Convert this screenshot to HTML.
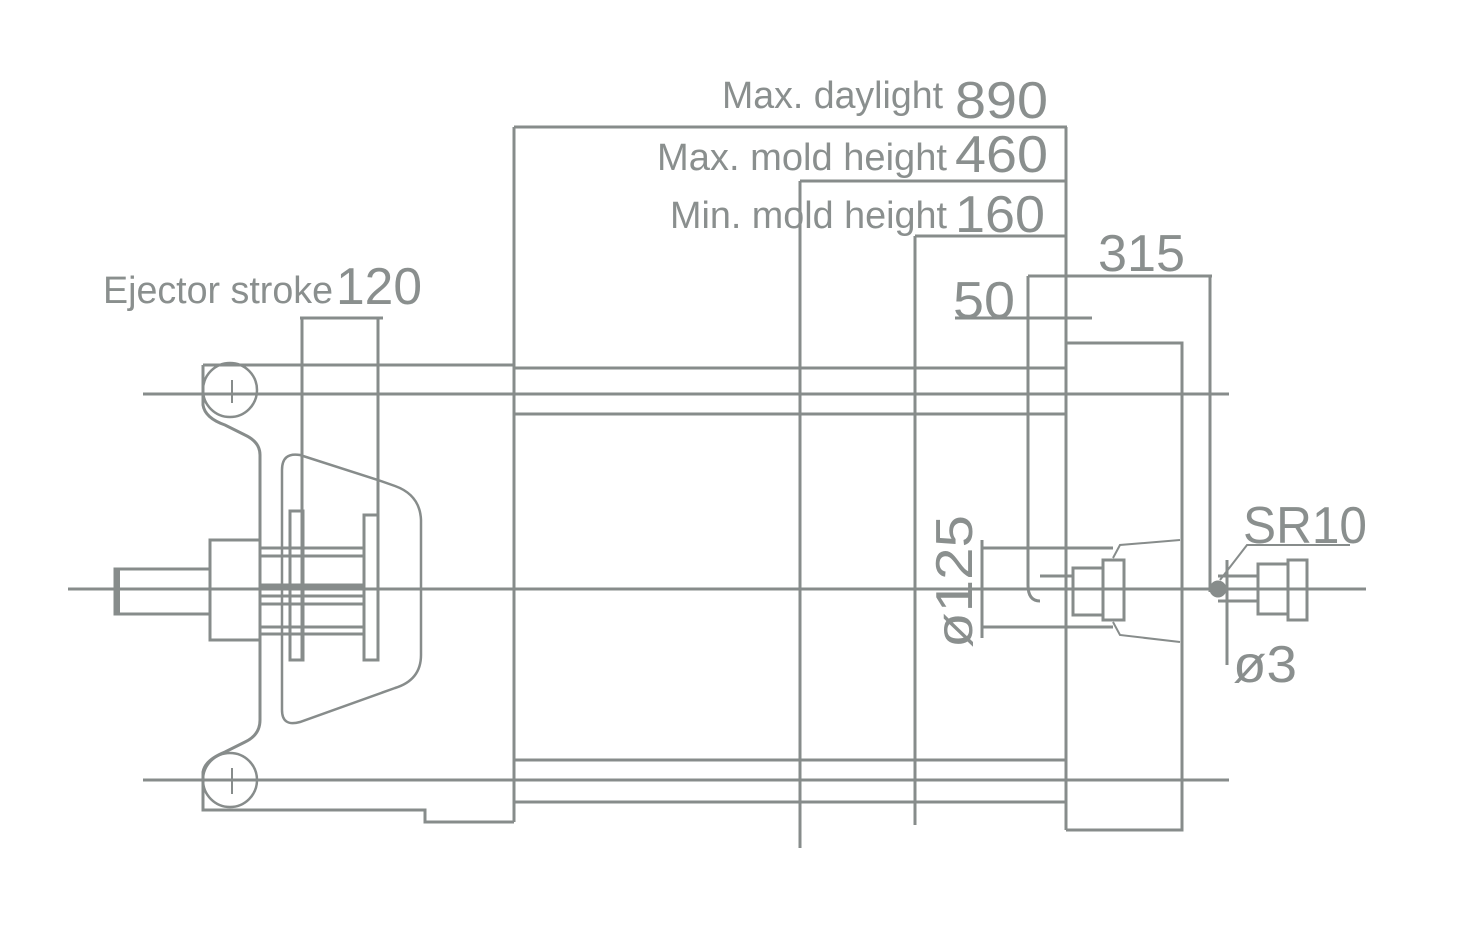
<!DOCTYPE html>
<html><head><style>
html,body{margin:0;padding:0;background:#fff;}
svg{display:block}
text{font-family:"Liberation Sans",sans-serif;fill:#8a8f8e;}
</style></head><body>
<svg width="1473" height="930" viewBox="0 0 1473 930" xmlns="http://www.w3.org/2000/svg">
<g stroke="#878c8b" stroke-width="3" fill="none">
<line x1="68" y1="589" x2="1366" y2="589"/>
<line x1="143" y1="394" x2="1229" y2="394"/>
<line x1="143" y1="780" x2="1229" y2="780"/>
<line x1="514" y1="368" x2="1066" y2="368"/>
<line x1="514" y1="414" x2="1066" y2="414"/>
<line x1="514" y1="760" x2="1066" y2="760"/>
<line x1="514" y1="802" x2="1066" y2="802"/>
<line x1="514" y1="127" x2="1067" y2="127"/>
<line x1="514" y1="127" x2="514" y2="822"/>
<line x1="1066" y1="127" x2="1066" y2="830"/>
<line x1="800" y1="181" x2="1067" y2="181"/>
<line x1="800" y1="181" x2="800" y2="848"/>
<line x1="915" y1="236" x2="1067" y2="236"/>
<line x1="915" y1="236" x2="915" y2="825"/>
<line x1="1028" y1="276" x2="1212" y2="276"/>
<line x1="955" y1="318" x2="1092" y2="318"/>
<path d="M1028 276 V585 Q1028 601 1040 601"/>
<line x1="1210" y1="276" x2="1210" y2="592"/>
<path d="M1066 343 H1182 V830 H1066"/>
<path d="M203 365 H514"/>
<path d="M203 365 V405 Q205 418 225 425 L245 435 Q260 442 260 455 V720 Q260 735 245 742 L225 752 Q205 760 203 772 V810 H425 V822 H514"/>
<circle cx="230" cy="390" r="27" stroke-width="2.5"/>
<circle cx="230" cy="780" r="27" stroke-width="2.5"/>
<line x1="232" y1="380" x2="232" y2="403" stroke-width="2"/>
<line x1="232" y1="768" x2="232" y2="794" stroke-width="2"/>
<path d="M282 470 Q282 452 300 455 L378 480 L395 486 Q420 495 421 520 V655 Q421 680 395 688 L300 722 Q282 727 282 710 Z" stroke-width="2.5"/>
<line x1="300" y1="318" x2="383" y2="318"/>
<line x1="302" y1="318" x2="302" y2="660"/>
<line x1="378" y1="318" x2="378" y2="660"/>
<rect x="290" y="511" width="13" height="149"/>
<rect x="364" y="515" width="14" height="145"/>
<rect x="210" y="540" width="50" height="100"/>
<rect x="115" y="569" width="95" height="45"/>
<line x1="117" y1="569" x2="117" y2="614" stroke-width="6"/>
<line x1="260" y1="548" x2="364" y2="548"/>
<line x1="260" y1="556" x2="364" y2="556"/>
<line x1="260" y1="586" x2="364" y2="586" stroke-width="5"/>
<line x1="260" y1="596" x2="364" y2="596"/>
<line x1="260" y1="604" x2="364" y2="604"/>
<line x1="260" y1="627" x2="364" y2="627"/>
<line x1="260" y1="634" x2="364" y2="634"/>
<line x1="981" y1="548" x2="1113" y2="548"/>
<line x1="981" y1="627" x2="1113" y2="627"/>
<line x1="982" y1="540" x2="982" y2="638"/>
<line x1="1040" y1="576" x2="1073" y2="576"/>
<rect x="1073" y="568" width="30" height="47"/>
<rect x="1103" y="560" width="21" height="60"/>
<path d="M1113 558 L1120 545 L1180 540" stroke-width="2"/>
<path d="M1113 622 L1120 635 L1180 642" stroke-width="2"/>
<circle cx="1218" cy="589" r="7" fill="#878c8b"/>
<line x1="1227" y1="560" x2="1227" y2="665"/>
<path d="M1220 580 L1247 545 H1350" stroke-width="2"/>
<line x1="1218" y1="576" x2="1258" y2="576"/>
<line x1="1218" y1="601" x2="1258" y2="601"/>
<rect x="1258" y="564" width="30" height="50"/>
<rect x="1288" y="560" width="19" height="60"/>
</g>
<g>
<text x="722" y="108" font-size="38" textLength="221" lengthAdjust="spacingAndGlyphs">Max. daylight</text>
<text x="955" y="118" font-size="52" textLength="93" lengthAdjust="spacingAndGlyphs">890</text>
<text x="657" y="170" font-size="38" textLength="290" lengthAdjust="spacingAndGlyphs">Max. mold height</text>
<text x="955" y="172" font-size="52" textLength="93" lengthAdjust="spacingAndGlyphs">460</text>
<text x="670" y="228" font-size="38" textLength="277" lengthAdjust="spacingAndGlyphs">Min. mold height</text>
<text x="955" y="232" font-size="52" textLength="90" lengthAdjust="spacingAndGlyphs">160</text>
<text x="1098" y="271" font-size="52" textLength="87" lengthAdjust="spacingAndGlyphs">315</text>
<text x="953" y="318" font-size="52" textLength="62" lengthAdjust="spacingAndGlyphs">50</text>
<text x="103" y="303" font-size="38" textLength="230" lengthAdjust="spacingAndGlyphs">Ejector stroke</text>
<text x="336" y="304" font-size="52" textLength="86" lengthAdjust="spacingAndGlyphs">120</text>
<text x="1243" y="543" font-size="52" textLength="124" lengthAdjust="spacingAndGlyphs">SR10</text>
<text x="1233" y="682" font-size="52" textLength="64" lengthAdjust="spacingAndGlyphs">ø3</text>
<text transform="translate(972,648) rotate(-90)" font-size="52" textLength="133" lengthAdjust="spacingAndGlyphs">ø125</text>
</g>
</svg>
</body></html>
